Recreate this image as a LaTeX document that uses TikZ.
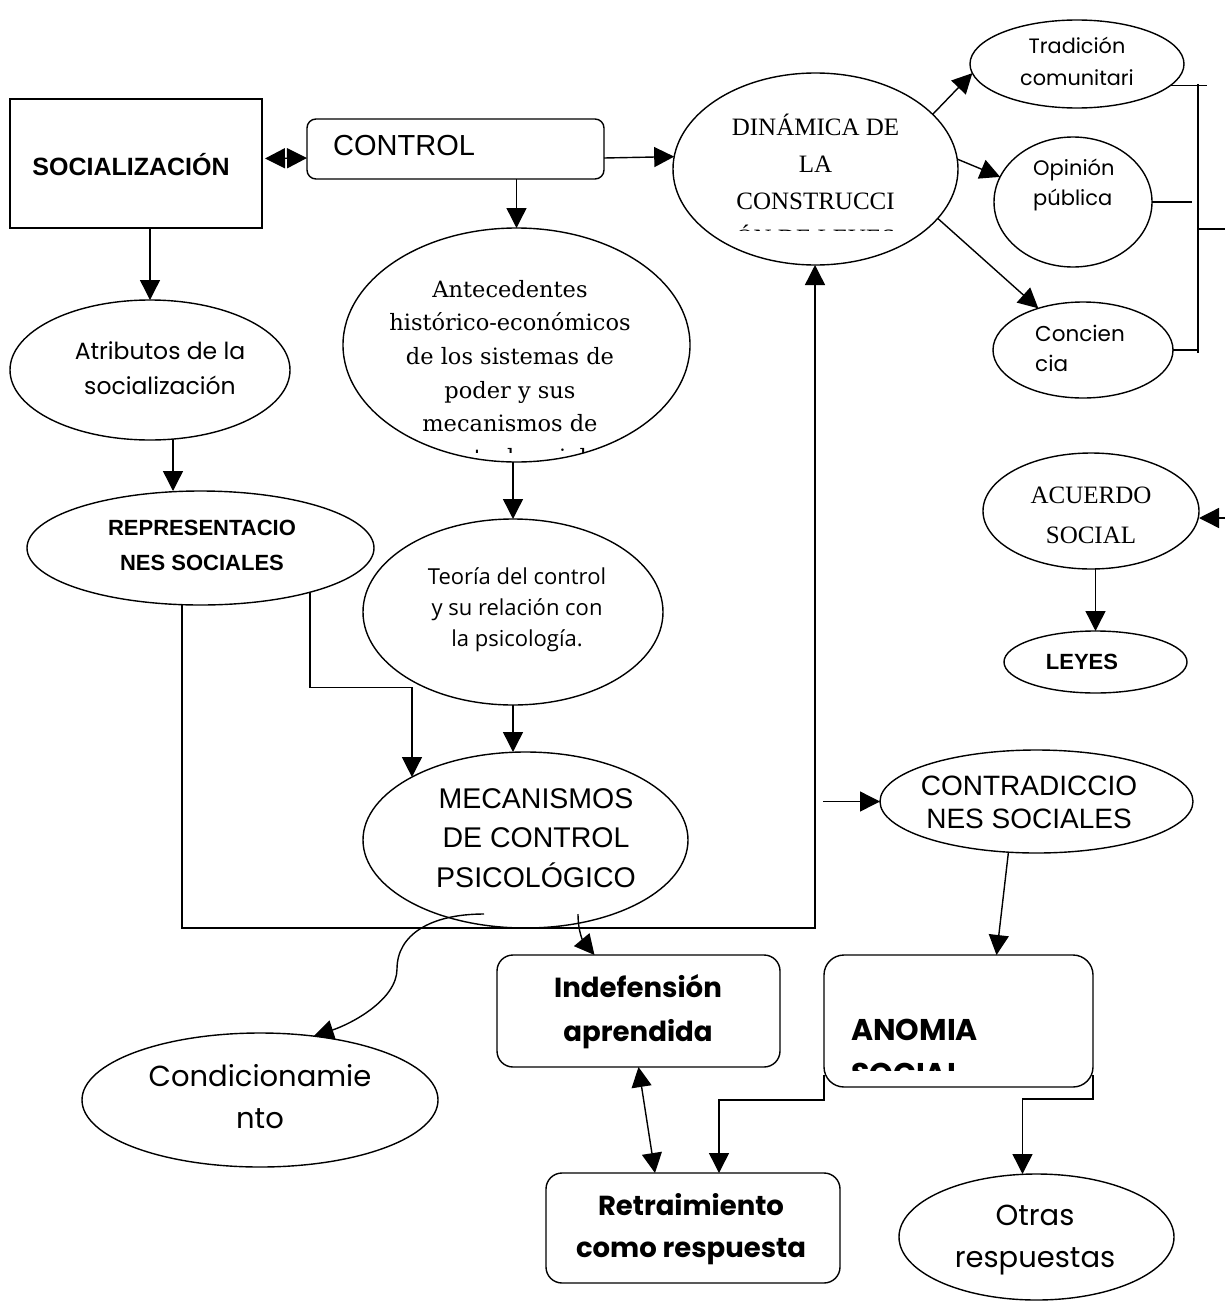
\documentclass[tikz,border=0pt]{standalone}
\usepackage{fontspec}
\setmainfont{Liberation Sans}
\newfontfamily\timesf{Liberation Serif}
\newfontfamily\bookf{DejaVu Serif}
\newfontfamily\gothf{Poppins}
\newfontfamily\segf{Open Sans}
\usepackage{tikz}
\usetikzlibrary{positioning,shapes.geometric,arrows.meta,calc}

\tikzset{
  box/.style={draw, rectangle, line width=1.4pt, inner sep=0pt, outer sep=0pt},
  rbox/.style={draw, rectangle, rounded corners=#1, line width=1.4pt, inner sep=0pt, outer sep=0pt},
  oval/.style={draw, ellipse, line width=1.4pt, inner sep=0pt, outer sep=0pt},
  txt/.style={inner sep=0pt, align=center},
  link/.style={line width=1.4pt},
  arr/.style={link, -{Triangle[length=20pt,width=20pt]}},
  arrs/.style={link, {Triangle[length=20pt,width=20pt]}-{Triangle[length=20pt,width=20pt]}},
}

\begin{document}
\begin{tikzpicture}[x=1pt,y=1pt,yscale=-1,xscale=1]
\useasboundingbox (0,0) rectangle (1225,1309);

%Shape: Rectangle
\node[box, minimum width=252pt, minimum height=129pt] (soc) at (136,163.5) {};
%Shape: Rounded rectangles
\node[rbox=9pt, minimum width=297pt, minimum height=60pt] (ctrl) at (455.5,149) {};
\node[rbox=16pt, minimum width=283pt, minimum height=112pt] (indef) at (638.5,1011) {};
\node[rbox=20pt, minimum width=269pt, minimum height=132pt] (anomia) at (958.5,1021) {};
\node[rbox=16pt, minimum width=294pt, minimum height=110pt] (retr) at (693,1228) {};
%Shape: Ellipses
\node[oval, minimum width=285pt, minimum height=192pt] (dina) at (815.5,169) {};
\node[oval, minimum width=214pt, minimum height=88pt] (trad) at (1077,64) {};
\node[oval, minimum width=158pt, minimum height=130pt] (opin) at (1073,202) {};
\node[oval, minimum width=180pt, minimum height=96pt] (conc) at (1083,350) {};
\node[oval, minimum width=280pt, minimum height=140pt] (attr) at (150,370) {};
\node[oval, minimum width=347pt, minimum height=234pt] (ant) at (516.5,345) {};
\node[oval, minimum width=347pt, minimum height=114pt] (repr) at (200.5,548) {};
\node[oval, minimum width=300pt, minimum height=186pt] (teo) at (513,612) {};
\node[oval, minimum width=325pt, minimum height=176pt] (mech) at (525.5,840) {};
\node[oval, minimum width=216pt, minimum height=116pt] (acuerdo) at (1091,511) {};
\node[oval, minimum width=183pt, minimum height=62pt] (leyes) at (1095.5,662) {};
\node[oval, minimum width=313pt, minimum height=103pt] (contra) at (1036.5,801.5) {};
\node[oval, minimum width=356pt, minimum height=134pt] (cond) at (260,1100) {};
\node[oval, minimum width=275pt, minimum height=126pt] (otras) at (1036.5,1237) {};

% Text Node
\node[txt, font=\bfseries\fontsize{25}{30}\selectfont] (soc-t) at (131,165) {SOCIALIZACIÓN};
% Text Node
\node[txt, anchor=west, font=\fontsize{29}{34}\selectfont] (ctrl-t) at (333,146) {CONTROL};
% Text Node
\begin{scope}
\clip (672,60) rectangle (958,230);
\node[txt, font=\timesf\fontsize{25}{37}\selectfont] (dina-t) at (815.5,180.5) {DINÁMICA DE\\LA\\CONSTRUCCI\\ÓN DE LEYES};
\end{scope}
% Text Node
\node[txt, font=\gothf\fontsize{20.8}{32}\selectfont] (trad-t) at (1077,61) {Tradición\\comunitari};
% Text Node
\node[txt, align=left, anchor=west, font=\gothf\fontsize{21}{30}\selectfont] (opin-t) at (1033,185) {Opinión\\pública};
% Text Node
\node[txt, align=left, anchor=west, font=\gothf\fontsize{21.5}{30}\selectfont] (conc-t) at (1035,348) {Concien\\cia};
% Text Node
\node[txt, font=\gothf\fontsize{23.5}{35}\selectfont] (attr-t) at (160,368) {Atributos de la\\socialización};
% Text Node
\begin{scope}
\clip (343,228) rectangle (690,452);
\node[txt, font=\bookf\fontsize{22.5}{33.6}\selectfont] (ant-t) at (510,373) {Antecedentes\\histórico-económicos\\de los sistemas de\\poder y sus\\mecanismos de\\control social};
\end{scope}
% Text Node
\node[txt, font=\bfseries\fontsize{22}{35}\selectfont] (repr-t) at (202,545) {REPRESENTACIO\\NES SOCIALES};
% Text Node
\node[txt, font=\segf\fontsize{22}{31}\selectfont] (teo-t) at (517,610) {Teoría del control\\y su relación con\\la psicología.};
% Text Node
\node[txt, font=\fontsize{28.5}{39.5}\selectfont] (mech-t) at (536,838) {MECANISMOS\\DE CONTROL\\PSICOLÓGICO};
% Text Node
\node[txt, font=\timesf\fontsize{25}{40}\selectfont] (acuerdo-t) at (1091,515) {ACUERDO\\SOCIAL};
% Text Node
\node[txt, font=\bfseries\fontsize{22}{26}\selectfont] (leyes-t) at (1082,662) {LEYES};
% Text Node
\node[txt, font=\fontsize{28}{33}\selectfont] (contra-t) at (1029,802) {CONTRADICCIO\\NES SOCIALES};
% Text Node
\node[txt, font=\gothf\bfseries\fontsize{27.6}{44}\selectfont] (indef-t) at (638,1012) {Indefensión\\aprendida};
% Text Node
\begin{scope}
\clip (826,957) rectangle (1090,1070);
\node[txt, align=left, anchor=west, font=\gothf\bfseries\fontsize{30}{44}\selectfont] (anomia-t) at (851,1052) {ANOMIA\\SOCIAL};
\end{scope}
% Text Node
\node[txt, font=\gothf\bfseries\fontsize{27.5}{42}\selectfont] (retr-t) at (691,1229) {Retraimiento\\como respuesta};
% Text Node
\node[txt, font=\gothf\fontsize{29}{42}\selectfont] (cond-t) at (260,1097) {Condicionamie\\nto};
% Text Node
\node[txt, font=\gothf\fontsize{29}{42}\selectfont] (otras-t) at (1035,1240) {Otras\\respuestas};

%Straight Lines
\draw[arrs] ($(soc.east)+(3,-5)$) -- ($(ctrl.west)+(0,9)$);
\draw[arr] ($(ctrl.east)+(0,9)$) -- (dina.175.6);
\draw[arr] (ant.north |- ctrl.south) -- (ant.north);
\draw[arr] (teo.north |- ant.south) -- (teo.north);
\draw[arr] (teo.south) -- (teo.south |- mech.north);
\draw[arr] (attr.north |- soc.south) -- (attr.north);
\draw[arr] ($(attr.south)+(23,-1)$) coordinate (a2r) -- (a2r |- repr.north);
\draw[arr] (repr.-22.6) -- ++(0,95) -| (mech.151.8);

% line under the centre, back up to the laws
\coordinate (hub) at (815,928);
\draw[arr] (repr.-108.1) |- (hub) -- (dina.south -| hub);
\draw[arr] ($(hub |- contra.west)+(8,0)$) -- (contra.west);

% from the dynamics of the laws
\draw[arr] (dina.25) -- (trad.185);
\draw[arr] (dina.4) -- (opin.161);
\draw[arr] (dina.-22.4) -- (conc.137);

% bracket on the right
\coordinate (brt) at (1198,84);
\coordinate (brb) at (1198,353);
\coordinate (brm) at (1198,229);
\draw[link] (brt) -- (brb);
\draw[link] (trad.-13) -- ++(37,0);
\draw[link] (opin.east) -- ++(40,0);
\draw[link] (conc.east) -- ($(brb)+(0,-3)$);
\draw[link] (brm) -- ++(27,0);

\coordinate (acin) at (1225,518);
\draw[arr] (acin) -- (acin -| acuerdo.east);
\draw[arr] (leyes.north |- acuerdo.south) -- (leyes.north);

% lower part
\draw[arr] ($(mech.south)+(-41.5,-14)$) .. controls +(-54,0) and +(0,-34) .. ++(-87,55) .. controls +(0,31) and +(37,-12) .. (cond.50);
\draw[arr] ($(mech.south)+(52.5,-14)$) .. controls +(0,20) and +(-10,-12) .. ($(indef.north)+(-44,0)$);
\draw[arr] (contra.-119.4) -- ($(anomia.north)+(38,0)$);
\draw[arrs] (indef.south) -- ($(retr.north)+(-38,0)$);
\draw[arr] ($(anomia.south west)+(0,-12)$) -- ++(0,25) -| ($(retr.north)+(26,0)$);
\draw[arr] ($(anomia.south east)+(0,-12)$) -- ++(0,24) -| ($(otras.north)+(-14,0)$);

\end{tikzpicture}
\end{document}
